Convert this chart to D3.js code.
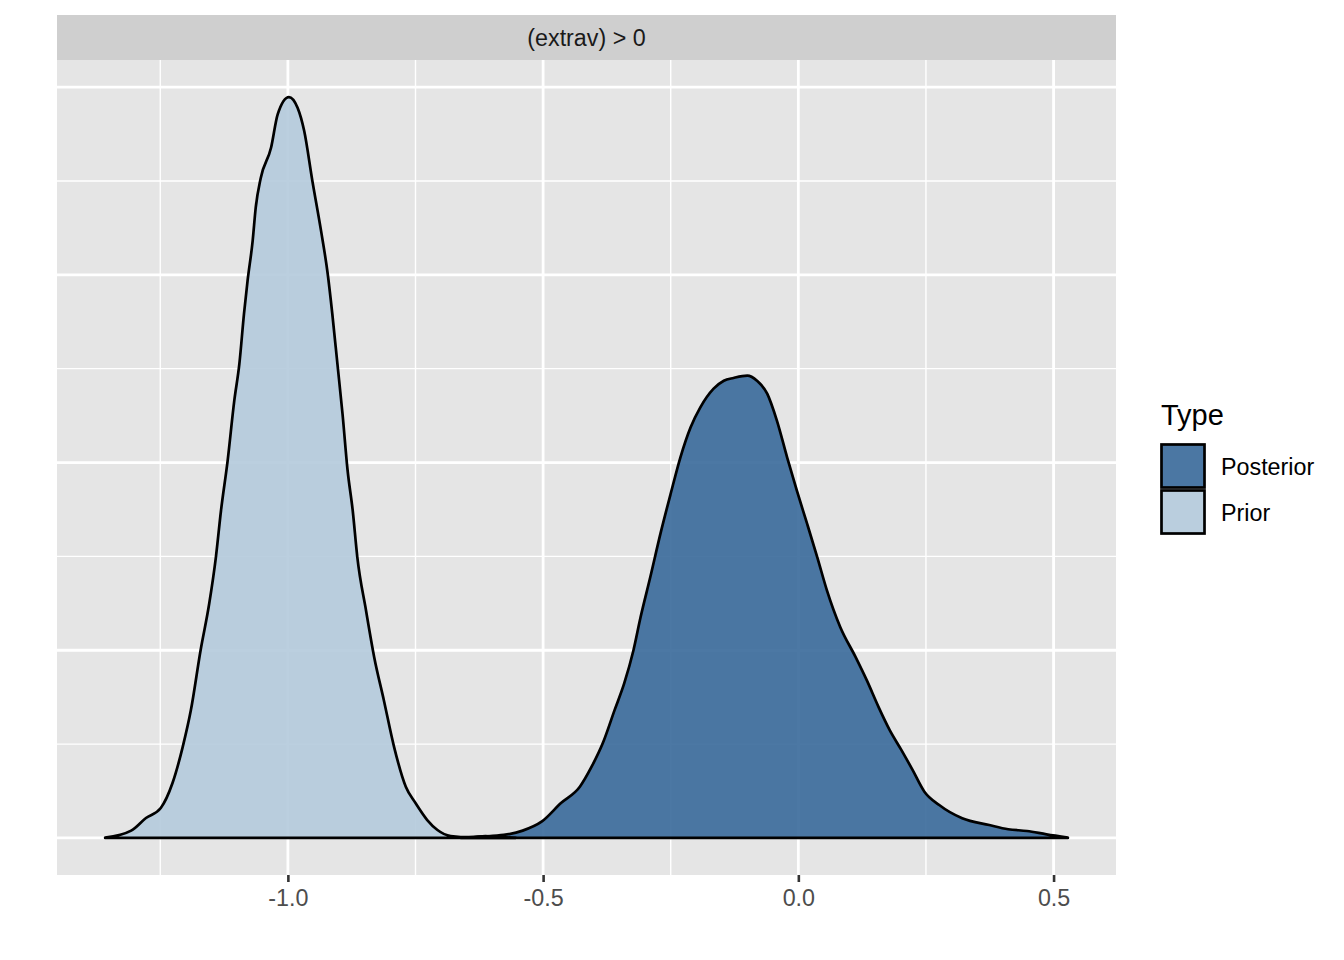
<!DOCTYPE html>
<html>
<head>
<meta charset="utf-8">
<script src="https://cdn.jsdelivr.net/npm/d3@7"></script>
<style>
  html, body { margin: 0; padding: 0; background: #ffffff; }
  svg { display: block; font-family: "Liberation Sans", Arial, Helvetica, sans-serif; }
</style>
</head>
<body>
<svg id="chart" width="1344" height="960"></svg>
<script>
// ---------------- data ----------------
const facetLabel = "(extrav) > 0";
const legendTitle = "Type";
const seriesNames = ["Posterior", "Prior"];

// Prior density (x value, density)
const priorX = [-1.358, -1.307, -1.278, -1.249, -1.226, -1.206, -1.190, -1.171, -1.154, -1.141,
  -1.131, -1.118, -1.105, -1.095, -1.086, -1.079, -1.069, -1.063, -1.053, -1.033,
  -1.020, -0.998, -0.981, -0.968, -0.952, -0.935, -0.922, -0.913, -0.903, -0.893,
  -0.883, -0.873, -0.864, -0.847, -0.831, -0.812, -0.792, -0.769, -0.750, -0.727,
  -0.707, -0.681, -0.642, -0.613, -0.583, -0.554];
const priorY = [0.003, 0.078, 0.213, 0.319, 0.585, 0.971, 1.362, 2.000, 2.500, 2.993,
  3.489, 4.021, 4.660, 5.053, 5.585, 5.936, 6.362, 6.716, 7.035, 7.354,
  7.710, 7.894, 7.780, 7.532, 7.000, 6.468, 6.011, 5.585, 5.053, 4.521,
  3.915, 3.489, 2.993, 2.426, 1.929, 1.468, 0.971, 0.546, 0.372, 0.191,
  0.085, 0.021, 0.008, 0.021, 0.010, 0.001];

// Posterior density (x value, density)
const postX = [-0.661, -0.622, -0.577, -0.540, -0.503, -0.465, -0.428, -0.405, -0.383, -0.360,
  -0.341, -0.323, -0.309, -0.290, -0.270, -0.250, -0.231, -0.211, -0.192, -0.166,
  -0.146, -0.127, -0.100, -0.081, -0.061, -0.042, -0.022, -0.003, 0.017, 0.037,
  0.056, 0.082, 0.112, 0.134, 0.157, 0.179, 0.202, 0.224, 0.247, 0.276,
  0.321, 0.374, 0.411, 0.448, 0.486, 0.528];
const postY = [0.001, 0.014, 0.032, 0.078, 0.173, 0.372, 0.546, 0.759, 1.011, 1.362,
  1.649, 2.000, 2.354, 2.780, 3.245, 3.670, 4.056, 4.376, 4.588, 4.787,
  4.872, 4.901, 4.926, 4.872, 4.734, 4.447, 4.056, 3.702, 3.351, 2.993,
  2.638, 2.248, 1.929, 1.681, 1.397, 1.149, 0.936, 0.723, 0.493, 0.351,
  0.210, 0.138, 0.093, 0.074, 0.039, 0.005];

const xMajorBreaks = [-1.0, -0.5, 0.0, 0.5];
const xMinorBreaks = [-1.25, -0.75, -0.25, 0.25];
const xTickLabels = ["-1.0", "-0.5", "0.0", "0.5"];
const yMajorBreaks = [0, 2, 4, 6, 8];
const yMinorBreaks = [1, 3, 5, 7];

// ---------------- layout / style ----------------
const panel = { left: 57, right: 1116, top: 60, bottom: 875 };
const strip = { top: 15, bottom: 60 };
const colors = { Posterior: "#39699A", Prior: "#B4CADB" };
const fillOpacity = 0.9;

const svg = d3.select("#chart");

const series = [
  { name: "Posterior", values: postX.map((x, i) => ({ x, y: postY[i] })) },
  { name: "Prior", values: priorX.map((x, i) => ({ x, y: priorY[i] })) }
];

const allX = priorX.concat(postX);
const xExt = d3.extent(allX);
const xPad = (xExt[1] - xExt[0]) * 0.05;
const x = d3.scaleLinear().domain([xExt[0] - xPad, xExt[1] + xPad]).range([panel.left, panel.right]);

const yMax = d3.max(priorY.concat(postY));
const y = d3.scaleLinear().domain([-0.05 * yMax, 1.05 * yMax]).range([panel.bottom, panel.top]);

// panel background
svg.append("rect")
  .attr("x", panel.left).attr("y", panel.top)
  .attr("width", panel.right - panel.left).attr("height", panel.bottom - panel.top)
  .attr("fill", "#E5E5E5");

// strip
svg.append("rect")
  .attr("x", panel.left).attr("y", strip.top)
  .attr("width", panel.right - panel.left).attr("height", strip.bottom - strip.top)
  .attr("fill", "#CFCFCF");
svg.append("text")
  .attr("x", (panel.left + panel.right) / 2).attr("y", 46)
  .attr("text-anchor", "middle")
  .attr("font-size", 23.3).attr("fill", "#1A1A1A")
  .text(facetLabel);

// grid
const grid = svg.append("g");
grid.selectAll(".ymin").data(yMinorBreaks).enter().append("line")
  .attr("x1", panel.left).attr("x2", panel.right)
  .attr("y1", d => y(d)).attr("y2", d => y(d))
  .attr("stroke", "#ffffff").attr("stroke-width", 1.4);
grid.selectAll(".xmin").data(xMinorBreaks).enter().append("line")
  .attr("y1", panel.top).attr("y2", panel.bottom)
  .attr("x1", d => x(d)).attr("x2", d => x(d))
  .attr("stroke", "#ffffff").attr("stroke-width", 1.4);
grid.selectAll(".ymaj").data(yMajorBreaks).enter().append("line")
  .attr("x1", panel.left).attr("x2", panel.right)
  .attr("y1", d => y(d)).attr("y2", d => y(d))
  .attr("stroke", "#ffffff").attr("stroke-width", 2.8);
grid.selectAll(".xmaj").data(xMajorBreaks).enter().append("line")
  .attr("y1", panel.top).attr("y2", panel.bottom)
  .attr("x1", d => x(d)).attr("x2", d => x(d))
  .attr("stroke", "#ffffff").attr("stroke-width", 2.8);

// densities
const area = d3.area()
  .x(d => x(d.x))
  .y0(y(0))
  .y1(d => y(d.y))
  .curve(d3.curveMonotoneX);

svg.append("g").selectAll("path").data(series).enter().append("path")
  .attr("d", d => area(d.values))
  .attr("fill", d => colors[d.name])
  .attr("fill-opacity", fillOpacity)
  .attr("stroke", "#000000")
  .attr("stroke-width", 2.7)
  .attr("stroke-linejoin", "round");

// x axis
const xAxis = d3.axisBottom(x)
  .tickValues(xMajorBreaks)
  .tickFormat((d, i) => xTickLabels[i])
  .tickSize(7)
  .tickPadding(6);
const gx = svg.append("g").attr("transform", `translate(0,${panel.bottom})`).call(xAxis);
gx.select(".domain").remove();
gx.selectAll(".tick line").attr("stroke", "#333333").attr("stroke-width", 2.6);
gx.selectAll(".tick text")
  .attr("font-size", 23.3)
  .attr("fill", "#4D4D4D")
  .attr("font-family", "'Liberation Sans', Arial, Helvetica, sans-serif")
  .attr("dy", null)
  .attr("y", 31);

// legend
const legend = svg.append("g");
legend.append("text")
  .attr("x", 1161).attr("y", 425)
  .attr("font-size", 29).attr("fill", "#000000")
  .text(legendTitle);
const keySize = 46;
const keys = legend.selectAll(".key").data(seriesNames).enter().append("g")
  .attr("transform", (d, i) => `translate(1160,${443 + i * keySize})`);
keys.append("rect")
  .attr("width", keySize).attr("height", keySize)
  .attr("fill", "#F2F2F2");
keys.append("rect")
  .attr("x", 1.5).attr("y", 1.5)
  .attr("width", keySize - 3).attr("height", keySize - 3)
  .attr("fill", d => colors[d]).attr("fill-opacity", fillOpacity)
  .attr("stroke", "#000000").attr("stroke-width", 2.7);
keys.append("text")
  .attr("x", 61).attr("y", keySize / 2 + 8.5)
  .attr("font-size", 23.3).attr("fill", "#000000")
  .text(d => d);
</script>
</body>
</html>
